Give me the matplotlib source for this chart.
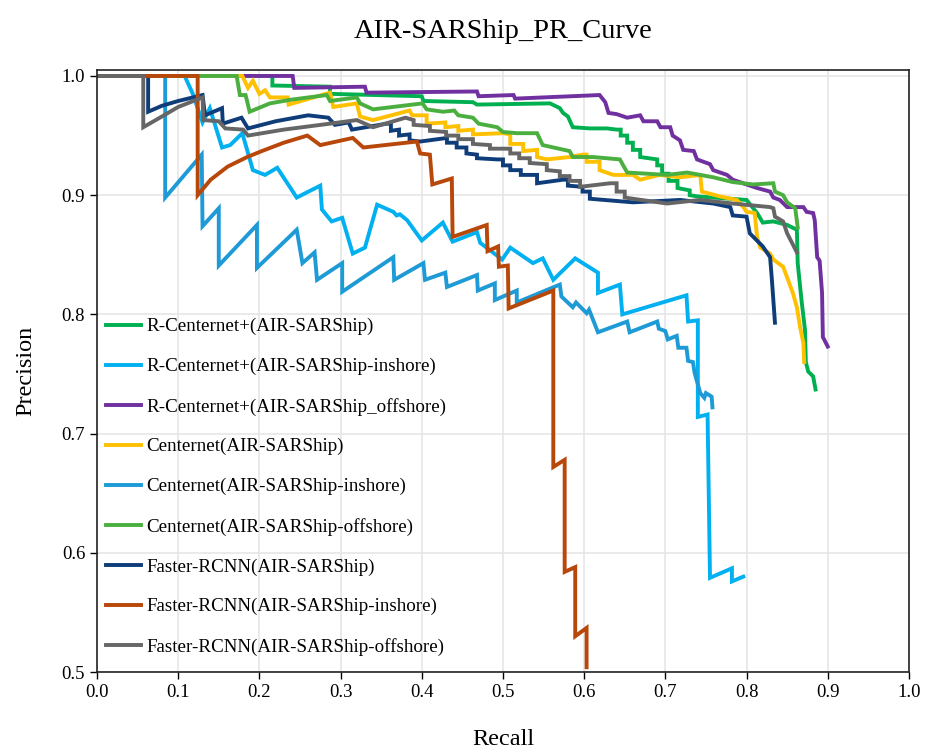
import matplotlib
matplotlib.use("Agg")
import matplotlib.pyplot as plt

plt.rcParams['font.family'] = ['Liberation Serif', 'DejaVu Serif']

# values (recall, precision)
rc_all_r = [0.0, 0.216, 0.216, 0.287, 0.287, 0.400, 0.402, 0.463, 0.468, 0.558, 0.570, 0.574,
            0.580, 0.586, 0.607, 0.628, 0.640, 0.645, 0.645, 0.653, 0.653, 0.660, 0.660, 0.669,
            0.669, 0.690, 0.690, 0.696, 0.696, 0.704, 0.704, 0.715, 0.715, 0.730, 0.730, 0.739,
            0.800, 0.813, 0.820, 0.833, 0.850, 0.862, 0.863, 0.868, 0.872, 0.873, 0.876, 0.882, 0.885]
rc_all_p = [1.0, 1.0, 0.992, 0.991, 0.985, 0.983, 0.979, 0.978, 0.976, 0.977, 0.973, 0.969,
            0.966, 0.957, 0.956, 0.956, 0.955, 0.955, 0.950, 0.950, 0.944, 0.944, 0.938, 0.938,
            0.932, 0.930, 0.925, 0.925, 0.918, 0.918, 0.912, 0.912, 0.906, 0.904, 0.900, 0.899,
            0.896, 0.885, 0.877, 0.878, 0.875, 0.871, 0.843, 0.810, 0.787, 0.760, 0.752, 0.748, 0.737]

rc_in_r = [0.0, 0.108, 0.118, 0.130, 0.139, 0.154, 0.164, 0.179, 0.192, 0.207, 0.222, 0.246,
           0.275, 0.277, 0.289, 0.302, 0.315, 0.330, 0.345, 0.365, 0.369, 0.373, 0.382, 0.400,
           0.426, 0.438, 0.468, 0.472, 0.499, 0.509, 0.537, 0.549, 0.562, 0.589, 0.617, 0.617,
           0.644, 0.647, 0.726, 0.728, 0.740, 0.740, 0.752, 0.755, 0.782, 0.782, 0.796]
rc_in_p = [1.0, 1.0, 0.985, 0.961, 0.973, 0.940, 0.942, 0.952, 0.921, 0.917, 0.923, 0.898,
           0.908, 0.888, 0.878, 0.881, 0.851, 0.856, 0.892, 0.886, 0.883, 0.884, 0.879, 0.862,
           0.877, 0.861, 0.869, 0.860, 0.846, 0.856, 0.843, 0.847, 0.829, 0.847, 0.835, 0.818,
           0.825, 0.800, 0.816, 0.794, 0.795, 0.714, 0.716, 0.579, 0.587, 0.576, 0.580]

rc_off_r = [0.0, 0.241, 0.243, 0.330, 0.332, 0.468, 0.470, 0.513, 0.515, 0.619, 0.626, 0.630,
            0.640, 0.653, 0.669, 0.673, 0.690, 0.694, 0.706, 0.709, 0.718, 0.722, 0.735, 0.739,
            0.755, 0.759, 0.776, 0.783, 0.800, 0.813, 0.829, 0.833, 0.841, 0.850, 0.870, 0.874,
            0.882, 0.884, 0.887, 0.890, 0.893, 0.894, 0.900]
rc_off_p = [1.0, 1.0, 0.990, 0.991, 0.986, 0.987, 0.983, 0.984, 0.981, 0.984, 0.978, 0.969,
            0.968, 0.965, 0.967, 0.962, 0.962, 0.957, 0.957, 0.950, 0.946, 0.938, 0.937, 0.930,
            0.926, 0.921, 0.917, 0.913, 0.909, 0.906, 0.903, 0.898, 0.896, 0.890, 0.890, 0.886,
            0.885, 0.879, 0.848, 0.845, 0.818, 0.781, 0.773]

cn_all_r = [0.0, 0.179, 0.186, 0.192, 0.200, 0.207, 0.213, 0.235, 0.236, 0.287, 0.291, 0.320,
            0.324, 0.340, 0.385, 0.388, 0.406, 0.406, 0.429, 0.429, 0.445, 0.445, 0.463, 0.463,
            0.500, 0.509, 0.509, 0.525, 0.525, 0.542, 0.542, 0.554, 0.582, 0.598, 0.603, 0.603,
            0.619, 0.619, 0.636, 0.660, 0.669, 0.693, 0.718, 0.743, 0.745, 0.767, 0.788, 0.796,
            0.800, 0.810, 0.813, 0.817, 0.829, 0.833, 0.845, 0.850, 0.857, 0.862, 0.866, 0.870,
            0.871]
cn_all_p = [1.0, 1.0, 0.990, 0.996, 0.985, 0.988, 0.982, 0.982, 0.976, 0.986, 0.974, 0.977,
            0.966, 0.963, 0.971, 0.967, 0.967, 0.960, 0.961, 0.957, 0.958, 0.954, 0.955, 0.951,
            0.952, 0.951, 0.943, 0.943, 0.937, 0.938, 0.932, 0.930, 0.932, 0.934, 0.934, 0.928,
            0.928, 0.921, 0.917, 0.917, 0.913, 0.917, 0.915, 0.917, 0.903, 0.899, 0.896, 0.890,
            0.886, 0.885, 0.865, 0.856, 0.851, 0.846, 0.840, 0.831, 0.818, 0.806, 0.789, 0.776,
            0.760]

cn_in_r = [0.0, 0.084, 0.084, 0.129, 0.130, 0.150, 0.150, 0.197, 0.197, 0.246, 0.253, 0.268,
           0.271, 0.302, 0.302, 0.365, 0.366, 0.402, 0.404, 0.429, 0.431, 0.468, 0.469, 0.490,
           0.490, 0.517, 0.517, 0.570, 0.572, 0.586, 0.590, 0.603, 0.606, 0.617, 0.653, 0.656,
           0.690, 0.692, 0.700, 0.703, 0.714, 0.716, 0.726, 0.728, 0.734, 0.736, 0.743, 0.748,
           0.750, 0.757, 0.758]
cn_in_p = [1.0, 1.0, 0.898, 0.934, 0.874, 0.889, 0.841, 0.875, 0.839, 0.871, 0.843, 0.852,
           0.829, 0.843, 0.819, 0.848, 0.829, 0.843, 0.829, 0.835, 0.823, 0.833, 0.820, 0.826,
           0.812, 0.820, 0.810, 0.825, 0.815, 0.806, 0.810, 0.801, 0.804, 0.785, 0.794, 0.785,
           0.794, 0.788, 0.786, 0.779, 0.782, 0.772, 0.772, 0.761, 0.760, 0.751, 0.734, 0.730,
           0.734, 0.731, 0.722]

cn_off_r = [0.0, 0.172, 0.176, 0.183, 0.188, 0.213, 0.238, 0.283, 0.287, 0.320, 0.324, 0.340,
            0.401, 0.406, 0.426, 0.440, 0.445, 0.463, 0.470, 0.493, 0.500, 0.517, 0.542, 0.549,
            0.582, 0.586, 0.611, 0.644, 0.653, 0.702, 0.727, 0.759, 0.783, 0.808, 0.833, 0.835,
            0.845, 0.850, 0.860, 0.863]
cn_off_p = [1.0, 1.0, 0.984, 0.984, 0.970, 0.977, 0.980, 0.984, 0.979, 0.982, 0.977, 0.972,
            0.977, 0.972, 0.970, 0.971, 0.967, 0.965, 0.960, 0.957, 0.953, 0.952, 0.952, 0.942,
            0.937, 0.932, 0.932, 0.930, 0.919, 0.917, 0.919, 0.915, 0.911, 0.909, 0.910, 0.903,
            0.900, 0.894, 0.889, 0.873]

fr_all_r = [0.0, 0.063, 0.063, 0.080, 0.100, 0.130, 0.133, 0.154, 0.155, 0.178, 0.186, 0.220,
            0.260, 0.285, 0.293, 0.310, 0.314, 0.357, 0.362, 0.362, 0.372, 0.372, 0.385, 0.385,
            0.398, 0.431, 0.431, 0.443, 0.443, 0.455, 0.455, 0.468, 0.468, 0.493, 0.500, 0.500,
            0.509, 0.509, 0.522, 0.522, 0.542, 0.542, 0.574, 0.580, 0.580, 0.598, 0.598, 0.607,
            0.607, 0.660, 0.718, 0.759, 0.780, 0.783, 0.800, 0.804, 0.820, 0.829, 0.831, 0.833,
            0.835]
fr_all_p = [1.0, 1.0, 0.970, 0.975, 0.979, 0.984, 0.967, 0.973, 0.960, 0.965, 0.956, 0.962,
            0.967, 0.965, 0.959, 0.961, 0.955, 0.960, 0.960, 0.954, 0.955, 0.950, 0.951, 0.946,
            0.945, 0.948, 0.944, 0.944, 0.940, 0.940, 0.935, 0.934, 0.931, 0.930, 0.930, 0.925,
            0.925, 0.921, 0.921, 0.917, 0.917, 0.910, 0.913, 0.913, 0.908, 0.907, 0.903, 0.903,
            0.897, 0.894, 0.896, 0.893, 0.890, 0.883, 0.882, 0.868, 0.857, 0.848, 0.831, 0.812,
            0.793]

fr_in_r = [0.0, 0.124, 0.124, 0.140, 0.161, 0.185, 0.203, 0.230, 0.259, 0.275, 0.315, 0.328,
           0.394, 0.398, 0.410, 0.413, 0.437, 0.438, 0.480, 0.481, 0.494, 0.495, 0.506, 0.507,
           0.562, 0.562, 0.576, 0.576, 0.589, 0.589, 0.603, 0.603]
fr_in_p = [1.0, 1.0, 0.900, 0.913, 0.924, 0.932, 0.937, 0.944, 0.950, 0.942, 0.948, 0.940,
           0.945, 0.935, 0.934, 0.909, 0.914, 0.865, 0.875, 0.853, 0.857, 0.840, 0.841, 0.805,
           0.820, 0.672, 0.678, 0.584, 0.588, 0.530, 0.537, 0.504]

fr_off_r = [0.0, 0.057, 0.057, 0.080, 0.100, 0.130, 0.131, 0.150, 0.158, 0.180, 0.186, 0.230,
            0.287, 0.320, 0.340, 0.380, 0.390, 0.390, 0.410, 0.410, 0.430, 0.430, 0.445, 0.445,
            0.463, 0.463, 0.484, 0.484, 0.509, 0.509, 0.520, 0.520, 0.533, 0.533, 0.554, 0.554,
            0.570, 0.570, 0.582, 0.582, 0.595, 0.595, 0.632, 0.640, 0.640, 0.650, 0.650, 0.660,
            0.702, 0.743, 0.783, 0.829, 0.833, 0.835, 0.845, 0.850, 0.862]
fr_off_p = [1.0, 1.0, 0.957, 0.966, 0.974, 0.982, 0.963, 0.962, 0.956, 0.955, 0.950, 0.955,
            0.960, 0.963, 0.957, 0.965, 0.963, 0.959, 0.958, 0.954, 0.953, 0.950, 0.950, 0.947,
            0.947, 0.943, 0.942, 0.939, 0.939, 0.935, 0.935, 0.931, 0.931, 0.927, 0.926, 0.921,
            0.920, 0.916, 0.916, 0.912, 0.912, 0.907, 0.910, 0.910, 0.903, 0.903, 0.898, 0.897,
            0.893, 0.896, 0.893, 0.890, 0.889, 0.882, 0.878, 0.868, 0.852]

labels = ['R-Centernet+(AIR-SARShip)', 'R-Centernet+(AIR-SARShip-inshore)',
          'R-Centernet+(AIR-SARShip_offshore)', 'Centernet(AIR-SARShip)',
          'Centernet(AIR-SARShip-inshore)', 'Centernet(AIR-SARShip-offshore)',
          'Faster-RCNN(AIR-SARShip)', 'Faster-RCNN(AIR-SARShip-inshore)',
          'Faster-RCNN(AIR-SARShip-offshore)']
colors = ['#00B050', '#00B0F0', '#7030A0', '#FFC000', '#1E9BD7', '#4BAF3F',
          '#0F3D7A', '#B8470A', '#666666']
curves = [(rc_all_r, rc_all_p), (rc_in_r, rc_in_p), (rc_off_r, rc_off_p),
          (cn_all_r, cn_all_p), (cn_in_r, cn_in_p), (cn_off_r, cn_off_p),
          (fr_all_r, fr_all_p), (fr_in_r, fr_in_p), (fr_off_r, fr_off_p)]

fig = plt.figure(figsize=(9.29, 7.56), dpi=100)
ax = fig.add_axes([0.1044, 0.1111, 0.874, 0.7963])

for (r, p), lab, col in zip(curves, labels, colors):
    ax.plot(r, p, color=col, lw=2.8, label=lab, solid_joinstyle='miter')

ax.set_xlim(0, 1.0)
ax.set_ylim(0.5, 1.005)
ax.set_xticks([i / 10 for i in range(11)])
ax.set_yticks([0.5, 0.6, 0.7, 0.8, 0.9, 1.0])
ax.grid(True, color='#e6e6e6', lw=1.2)
ax.set_axisbelow(True)
ax.tick_params(direction='out', length=5, width=1, labelsize=13.5)
for s in ax.spines.values():
    s.set_color('#222222')
    s.set_linewidth(1.2)

ax.set_title('AIR-SARShip_PR_Curve', fontsize=20.5, pad=23)
ax.set_xlabel('Recall', fontsize=17.5, labelpad=20)
ax.set_ylabel('Precision', fontsize=17.5, labelpad=18)

ax.legend(loc='lower left', bbox_to_anchor=(0.011, 0.027), frameon=False,
          fontsize=13.7, borderpad=0, borderaxespad=0, labelspacing=1.18,
          handlelength=1.84, handletextpad=0.3)

fig.savefig('out.png', dpi=100)
